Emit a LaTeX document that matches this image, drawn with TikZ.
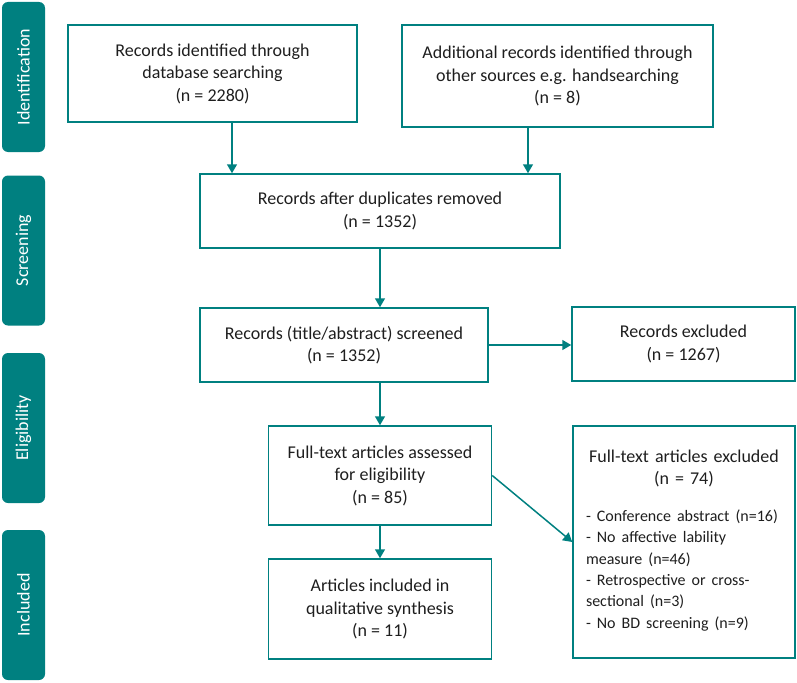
\documentclass[tikz,border=0pt]{standalone}
\usepackage{fontspec}
\setmainfont{Carlito}
\usetikzlibrary{arrows.meta}
\definecolor{prismateal}{RGB}{0,128,128}
\definecolor{prismatext}{RGB}{30,30,30}
\newcommand{\flowfont}{\fontsize{18}{22.5}\selectfont}
\newcommand{\listfont}{\fontsize{16}{21.4}\selectfont}

\begin{document}
\begin{tikzpicture}[x=1pt,y=-1pt,>={Triangle[length=9pt,width=10pt]},
    line width=1.5pt,
    main node/.style={rectangle,draw=prismateal,text=prismatext,
      font=\flowfont,align=center,inner sep=0pt},
    stage node/.style={rectangle,rounded corners=6pt,fill=prismateal,
      text=white,font=\flowfont,rotate=90,minimum width=150pt,
      minimum height=43pt,inner sep=0pt},
    flow/.style={draw=prismateal,->}]

  \useasboundingbox (0,0) rectangle (797,682);

  % stage labels on the left
  \node[stage node] (Ident) at (23.5,77) {Identification};
  \node[stage node] (Screen) at (23.5,250.5) {Screening};
  \node[stage node] (Elig) at (23.5,428) {Eligibility};
  \node[stage node] (Incl) at (23.5,605) {Included};

  % identification
  \node[main node,minimum width=289pt,minimum height=97pt] (Database) at (212.5,73.5)
    {Records identified through\\database searching\\(n = 2280)};
  \node[main node,minimum width=311pt,minimum height=102pt] (Other) at (557.5,76)
    {Additional records identified through\\other sources e.g. handsearching\\(n = 8)};

  % screening
  \node[main node,minimum width=360pt,minimum height=74pt] (Dedup) at (380,211)
    {Records after duplicates removed\\(n = 1352)};
  \node[main node,minimum width=288pt,minimum height=74pt] (Screened) at (344,345)
    {Records (title/abstract) screened\\(n = 1352)};
  \node[main node,minimum width=223pt,minimum height=74pt] (Excluded) at (683.5,344)
    {Records excluded\\(n = 1267)};

  % eligibility and included
  \node[main node,minimum width=223pt,minimum height=99pt] (Assessed) at (380,475.5)
    {Full-text articles assessed\\for eligibility\\(n = 85)};
  \node[main node,minimum width=223pt,minimum height=100pt] (Included) at (380,609)
    {Articles included in\\qualitative synthesis\\(n = 11)};
  \node[main node,minimum width=222pt,minimum height=232pt,text width=196pt,
    align=left] (FullExcl) at (684,542)
    {{\centering Full-text articles excluded\\(n = 74)\par}\vspace{15pt}
     {\listfont - Conference abstract (n=16)\\
     - No affective lability\\
     measure (n=46)\\
     - Retrospective or cross-\\
     sectional (n=3)\\
     - No BD screening (n=9)\par}\vspace{3pt}};

  \draw[flow] ([xshift=19.5pt]Database.south) -- ([xshift=19.5pt]Database.south |- Dedup.north);
  \draw[flow] ([xshift=-29.5pt]Other.south) -- ([xshift=-29.5pt]Other.south |- Dedup.north);
  \draw[flow] (Dedup.south) -- (Dedup.south |- Screened.north);
  \draw[flow] (Screened.east) -- (Screened.east -| Excluded.west);
  \draw[flow] (Screened.south -| Assessed.north) -- (Assessed.north);
  \draw[flow] (Assessed) -- (Included);
  \draw[flow] (Assessed.east) -- (FullExcl.west);
\end{tikzpicture}
\end{document}
